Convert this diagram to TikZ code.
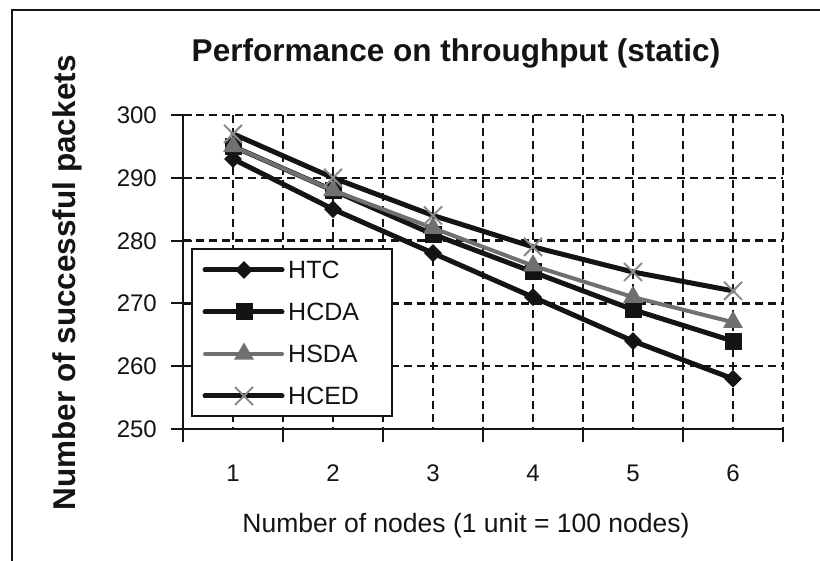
\documentclass[tikz,border=0pt]{standalone}
\usepackage{fontspec}
\setmainfont{Liberation Sans}
\usetikzlibrary{shapes.geometric,shapes.misc}
\definecolor{ink}{RGB}{20,20,20}
\definecolor{sgray}{RGB}{112,112,112}
\definecolor{xgray}{RGB}{140,140,140}
\tikzset{
  frameline/.style={draw=ink,line width=2.4pt},
  gridline/.style={draw=ink,line width=2.4pt,dash pattern=on 8pt off 5pt},
  axisline/.style={draw=ink,line width=2pt},
  serline/.style={draw=ink,line width=5pt,line join=round,line cap=round},
  grayline/.style={draw=sgray,line width=4pt,line join=round,line cap=round},
  dmk/.style={diamond,fill=ink,inner sep=0pt,minimum width=18pt,minimum height=18pt},
  smk/.style={rectangle,fill=ink,inner sep=0pt,minimum size=17pt},
  tmk/.style={regular polygon,regular polygon sides=3,fill=sgray,inner sep=0pt,minimum size=23pt},
  xmk/.style={cross out,draw=xgray,line width=2pt,inner sep=0pt,minimum size=16pt},
  ticklab/.style={font=\fontsize{24}{28}\selectfont,text=ink,inner sep=0pt},
  legtext/.style={font=\fontsize{25}{29}\selectfont,text=ink,inner sep=0pt,anchor=base west},
}
\begin{document}
\begin{tikzpicture}[x=1pt,y=-1pt]
\useasboundingbox (0,0) rectangle (820,561);
\fill[white] (0,0) rectangle (820,561);
% outer frame (left and top only)
\draw[frameline] (12,561) -- (12,10) -- (820,10);
% title
\node[font=\fontsize{31.5}{36}\selectfont\bfseries,text=ink,anchor=base,inner sep=0pt] (title) at (456,62) {Performance on throughput (static)};
% y axis title
\node[font=\fontsize{31.5}{36}\selectfont\bfseries,text=ink,anchor=base,rotate=90,inner sep=0pt] (ytitle) at (75,283) {Number of successful packets};
% grid
\foreach \v in {300,290,280,270,260}
  \draw[gridline] (183,{115+(300-\v)*6.28}) -- (783,{115+(300-\v)*6.28});
\foreach \i in {1,...,12}
  \draw[gridline] ({183+50*\i},115) -- ({183+50*\i},429);
% axes
\draw[axisline] (183,115) -- (183,442);
\draw[axisline] (183,429) -- (784,429);
\foreach \v in {300,290,280,270,260,250}{
  \draw[axisline] (171,{115+(300-\v)*6.28}) -- (192,{115+(300-\v)*6.28});
  \node[ticklab,anchor=base east] (yl\v) at (157,{115+(300-\v)*6.28+8.5}) {\v};
}
\foreach \i in {1,...,6}{
  \draw[axisline] ({183+100*\i},429) -- ({183+100*\i},442);
  \node[ticklab,anchor=base] (xl\i) at ({133+100*\i},482) {\i};
}
\node[font=\fontsize{26.5}{30}\selectfont,text=ink,anchor=base,inner sep=0pt] (xtitle) at (466,532) {Number of nodes (1 unit = 100 nodes)};
% data points
\foreach \i/\v in {1/293,2/285,3/278,4/271,5/264,6/258}
  \coordinate (htc\i) at ({133+100*\i},{115+(300-\v)*6.28});
\foreach \i/\v in {1/295,2/288,3/281,4/275,5/269,6/264}
  \coordinate (hcda\i) at ({133+100*\i},{115+(300-\v)*6.28});
\foreach \i/\v in {1/295,2/288,3/282,4/276,5/271,6/267}
  \coordinate (hsda\i) at ({133+100*\i},{115+(300-\v)*6.28});
\foreach \i/\v in {1/297,2/290,3/284,4/279,5/275,6/272}
  \coordinate (hced\i) at ({133+100*\i},{115+(300-\v)*6.28});
% HTC
\draw[serline] (htc1) -- (htc2) -- (htc3) -- (htc4) -- (htc5) -- (htc6);
\foreach \i in {1,...,6} \node[dmk] (htcm\i) at (htc\i) {};
% HCDA
\draw[serline] (hcda1) -- (hcda2) -- (hcda3) -- (hcda4) -- (hcda5) -- (hcda6);
\foreach \i in {1,...,6} \node[smk] (hcdam\i) at (hcda\i) {};
% HSDA
\draw[grayline] (hsda1) -- (hsda2) -- (hsda3) -- (hsda4) -- (hsda5) -- (hsda6);
\foreach \i in {1,...,6} \node[tmk] (hsdam\i) at (hsda\i) {};
% HCED
\draw[serline] (hced1) -- (hced2) -- (hced3) -- (hced4) -- (hced5) -- (hced6);
\foreach \i in {1,...,6} \node[xmk] (hcedm\i) at (hced\i) {};
% legend
\node[draw=ink,fill=white,line width=2.4pt,inner sep=0pt,minimum width=200pt,minimum height=167pt] (legend) at (292,332.5) {};
\coordinate (la1) at (205,270); \coordinate (lb1) at (282,270);
\coordinate (la2) at (205,312); \coordinate (lb2) at (282,312);
\coordinate (la3) at (205,354); \coordinate (lb3) at (282,354);
\coordinate (la4) at (205,396); \coordinate (lb4) at (282,396);
\draw[serline] (la1) -- (lb1);
\node[dmk] (lm1) at (244,270) {};
\draw[serline] (la2) -- (lb2);
\node[smk] (lm2) at (244,312) {};
\draw[grayline] (la3) -- (lb3);
\node[tmk] (lm3) at (244,354) {};
\draw[serline] (la4) -- (lb4);
\node[xmk] (lm4) at (244,396) {};
\node[legtext] (lt1) at (288,279) {HTC};
\node[legtext] (lt2) at (288,321) {HCDA};
\node[legtext] (lt3) at (288,363) {HSDA};
\node[legtext] (lt4) at (288,405) {HCED};
\end{tikzpicture}
\end{document}
